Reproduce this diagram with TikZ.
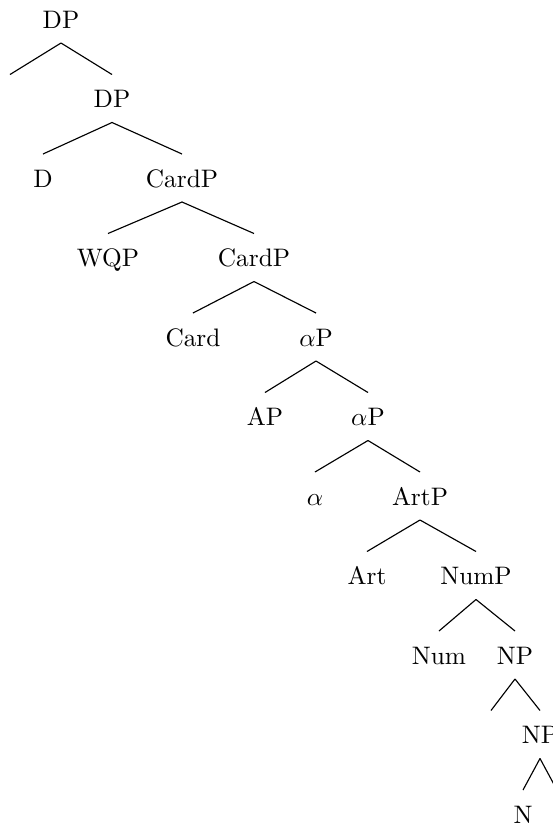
\documentclass[tikz,border=0pt]{standalone}
\usetikzlibrary{calc}
\begin{document}
\begin{tikzpicture}[x=0.3953pt, y=-0.3953pt,
  lbl/.style={anchor=base, inner sep=0pt},
  br/.style={line width=0.45pt}]
\useasboundingbox (0,0) rectangle (553,827);
\clip (0,0) rectangle (553,827);
% level baselines
\def\la{28}\def\lb{107.5}\def\lc{187}\def\ld{266.5}\def\le{346}
\def\lf{425.5}\def\lg{505}\def\lh{584.5}\def\li{664}\def\lj{743.5}\def\lk{823}
% labels (empty ones mark bare branch ends)
\node[lbl] (dp0)   at (61,\la)  {DP};
\node[lbl] (e0)    at (10,\lb)  {};
\node[lbl] (dp1)   at (112,\lb) {DP};
\node[lbl] (d)     at (43,\lc)  {D};
\node[lbl] (card0) at (182,\lc) {CardP};
\node[lbl] (wqp)   at (108,\ld) {WQP};
\node[lbl] (card1) at (254,\ld) {CardP};
\node[lbl] (card)  at (193,\le) {Card};
\node[lbl] (ap0)   at (316,\le) {$\alpha$P};
\node[lbl] (ap)    at (265,\lf) {AP};
\node[lbl] (ap1)   at (368,\lf) {$\alpha$P};
\node[lbl] (alpha) at (315,\lg) {$\alpha$};
\node[lbl] (artp)  at (420,\lg) {ArtP};
\node[lbl] (art)   at (367,\lh) {Art};
\node[lbl] (nump)  at (476,\lh) {NumP};
\node[lbl] (num)   at (439,\li) {Num};
\node[lbl] (np0)   at (515,\li) {NP};
\node[lbl] (e1)    at (491,\lj) {};
\node[lbl] (np1)   at (540,\lj) {NP};
\node[lbl] (n)     at (523,\lk) {N};
\node[lbl] (e2)    at (557,\lk) {};
% branches: from 15px below the mother's baseline to 33px above the daughter's
\foreach \m/\dd in {dp0/e0, dp0/dp1, dp1/d, dp1/card0, card0/wqp, card0/card1,
    card1/card, card1/ap0, ap0/ap, ap0/ap1, ap1/alpha, ap1/artp, artp/art,
    artp/nump, nump/num, nump/np0, np0/e1, np0/np1, np1/n, np1/e2}
  \draw[br] ($(\m.base)+(0,15)$) -- ($(\dd.base)+(0,-33)$);
\end{tikzpicture}
\end{document}
